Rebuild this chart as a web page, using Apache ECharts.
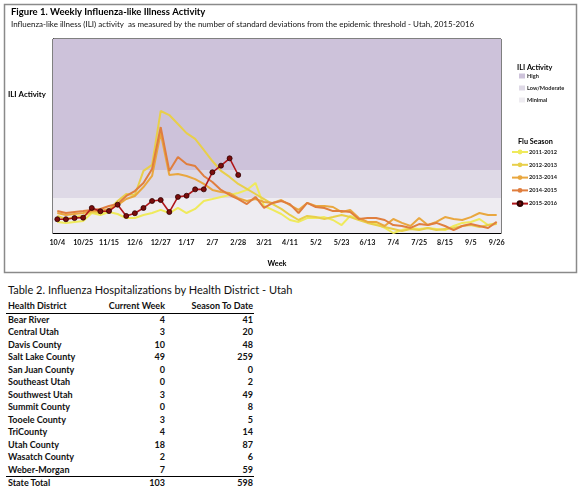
<!DOCTYPE html>
<html lang="en">
<head>
    <meta charset="UTF-8">
    <title>Weekly Influenza-like Illness Activity - Utah</title>
    <style>
        body {
            margin: 0;
            background: #fff;
            font-family: Lato, "Open Sans", sans-serif;
            color: #111;
        }

        .page {
            position: relative;
            width: 587px;
            height: 497px;
        }

        #iliChart {
            position: absolute;
            left: 0;
            top: 0;
            width: 587px;
            height: 280px;
        }

        .table-title {
            position: absolute;
            left: 8px;
            top: 283px;
            font-size: 11px;
            white-space: nowrap;
        }

        .hosp-table {
            position: absolute;
            left: 6px;
            top: 300px;
            border-collapse: collapse;
            font-size: 9px;
            font-weight: bold;
        }

        .hosp-table td, .hosp-table th {
            height: 12.5px;
            padding: 0 1px 0 2px;
            line-height: 12.5px;
            white-space: nowrap;
        }

        .hosp-table th {
            border-bottom: 1px solid #000;
            text-align: left;
        }

        .hosp-table .num {
            text-align: right;
        }

        .hosp-table tr.total td {
            border-top: 1.5px solid #000;
        }
    </style>
</head>
<body>
    <div class="page">
        <div id="iliChart"></div>
        <div class="table-title">Table 2. Influenza Hospitalizations by Health District - Utah</div>
        <table class="hosp-table" id="hospTable">
            <colgroup>
                <col style="width: 100px">
                <col style="width: 60px">
                <col style="width: 88px">
            </colgroup>
        </table>
    </div>

    <script src="https://cdn.jsdelivr.net/npm/echarts@6/dist/echarts.min.js"></script>
    <script>
        // week start dates, 10/4 through 9/26
        const weeks = ['10/4', '10/11', '10/18', '10/25', '11/1', '11/8', '11/15', '11/22', '11/29',
            '12/6', '12/13', '12/20', '12/27', '1/3', '1/10', '1/17', '1/24', '1/31',
            '2/7', '2/14', '2/21', '2/28', '3/7', '3/14', '3/21', '3/28', '4/4', '4/11', '4/18', '4/25',
            '5/2', '5/9', '5/16', '5/23', '5/30', '6/6', '6/13', '6/20', '6/27',
            '7/4', '7/11', '7/18', '7/25', '8/1', '8/8', '8/15', '8/22', '8/29',
            '9/5', '9/12', '9/19', '9/26'];

        // ILI activity per season (relative units)
        const season2011 = [0.57, 0.52, 0.57, 0.62, 1.03, 0.93, 1.08, 0.98, 0.77, 0.77, 0.93, 1.03, 1.19,
            1.03, 1.29, 1.03, 1.24, 1.65, 1.75, 1.86, 1.96, 2.06, 2.22, 2.58, 1.39, 1.19, 0.98, 0.67,
            0.57, 0.77, 0.77, 0.82, 0.67, 0.41, 0.88, 0.72, 0.57, 0.46, 0.26, 0, 0.15, 0.26, 0.21,
            0.26, 0.21, 0.15, 0.36, 0.52, 0.57, 0.72, 0.41, 0.52];
        const season2012 = [0.88, 0.72, 0.82, 0.88, 1.08, 1.03, 1.19, 1.65, 2.01, 1.96, 3.2, 3.51, 6.29,
            6.08, 5.62, 5.15, 4.85, 4.28, 3.71, 3.2, 2.89, 2.53, 2.27, 2.01, 1.75, 1.49, 1.24, 0.93,
            0.67, 0.88, 0.82, 0.72, 0.82, 0.93, 0.82, 0.67, 0.52, 0.41, 0.31, 0.21, 0.1, 0.21, 0.15,
            0.26, 0.15, 0.21, 0.26, 0.36, 0.41, 0.31, 0.41, 0.46];
        const season2013 = [1.03, 0.93, 0.98, 1.03, 1.13, 1.13, 1.24, 1.44, 1.75, 1.91, 2.37, 2.94, 5.15,
            2.99, 3.04, 2.94, 2.78, 2.53, 2.22, 2.11, 2.06, 1.8, 1.65, 1.75, 1.6, 1.55, 1.7, 1.44,
            1.19, 1.55, 1.39, 1.39, 1.34, 1.08, 1.19, 0.77, 0.57, 0.57, 0.36, 0.72, 0.52, 0.36, 0.77,
            0.41, 0.57, 0.82, 0.72, 0.67, 0.82, 1.03, 0.93, 0.93];
        const season2014 = [1.13, 1.03, 1.08, 1.13, 1.19, 1.24, 1.39, 1.49, 1.91, 2.16, 2.58, 3.3, 5.46,
            3.2, 3.92, 3.56, 3.45, 2.94, 2.63, 2.22, 1.96, 1.75, 1.49, 1.86, 1.29, 1.55, 1.65, 1.49,
            1.03, 1.55, 1.34, 1.29, 1.13, 1.13, 1.08, 0.72, 0.77, 0.77, 0.67, 0.41, 0.36, 0.26, 0.46,
            0.41, 0.52, 0.36, 0.15, 0.36, 0.46, 0.36, 0.26, 0.57];
        const season2015 = [0.71, 0.71, 0.77, 0.79, 1.29, 1.12, 1.13, 1.46, 0.88, 1.02, 1.29, 1.65, 1.7,
            1.08, 1.86, 1.92, 2.25, 2.25, 3.13, 3.47, 3.85, 2.99];

        // ILI activity bands
        const bandNames = ['High', 'Low/Moderate', 'Minimal'];
        const bandFrom = [3.25, 1.8, 0];
        const bandTo = [10, 3.25, 1.8];

        // hospitalizations table
        const districts = ['Bear River', 'Central Utah', 'Davis County', 'Salt Lake County', 'San Juan County',
            'Southeast Utah', 'Southwest Utah', 'Summit County', 'Tooele County', 'TriCounty',
            'Utah County', 'Wasatch County', 'Weber-Morgan'];
        const currentWeek = [4, 3, 10, 49, 0, 0, 3, 0, 3, 4, 18, 2, 7];
        const seasonToDate = [41, 20, 48, 259, 0, 2, 49, 8, 5, 14, 87, 6, 59];
        const stateTotal = [103, 598];

        const fontFamily = 'Lato, "Open Sans", sans-serif';
        const bandColors = ['#CDC2DA', '#DED9E6', '#EEECF1'];
        const seasons = [
            { name: '2011-2012', data: season2011, color: '#EFEA5C' },
            { name: '2012-2013', data: season2012, color: '#E8CF4A' },
            { name: '2013-2014', data: season2013, color: '#E9A73F' },
            { name: '2014-2015', data: season2014, color: '#E07E3E' }
        ];

        const bandSeries = bandNames.map(function (name, i) {
            return {
                name: name,
                type: 'line',
                data: [],
                color: bandColors[i],
                silent: true,
                markArea: {
                    silent: true,
                    itemStyle: { color: bandColors[i] },
                    data: [[{ yAxis: bandFrom[i] }, { yAxis: bandTo[i] }]]
                }
            };
        });

        const seasonSeries = seasons.map(function (s) {
            return {
                name: s.name,
                type: 'line',
                data: s.data,
                color: s.color,
                symbol: 'none',
                lineStyle: { width: 2, color: s.color },
                z: 3
            };
        });

        seasonSeries.push({
            name: '2015-2016',
            type: 'line',
            data: season2015,
            color: '#9E1414',
            symbol: 'circle',
            symbolSize: 5,
            lineStyle: { width: 1.6, color: '#B0171A' },
            itemStyle: { color: '#7A0C0C', borderColor: '#2E0000', borderWidth: 0.8 },
            z: 5
        });

        const chart = echarts.init(document.getElementById('iliChart'));
        chart.setOption({
            animation: false,
            textStyle: { fontFamily: fontFamily },
            title: {
                text: 'Figure 1. Weekly Influenza-like Illness Activity',
                subtext: 'Influenza-like illness (ILI) activity  as measured by the number of standard deviations from the epidemic threshold - Utah, 2015-2016',
                left: 11,
                top: 7,
                itemGap: 3,
                padding: 0,
                textStyle: { fontSize: 9.5, fontWeight: 'bold', color: '#000', fontFamily: fontFamily },
                subtextStyle: { fontSize: 8, color: '#111', fontFamily: fontFamily }
            },
            graphic: [
                {
                    type: 'rect',
                    shape: { x: 4.5, y: 4.5, width: 572, height: 268 },
                    style: { fill: 'none', stroke: '#8A8A8A', lineWidth: 1.5 },
                    silent: true
                },
                {
                    type: 'text',
                    left: 8,
                    top: 90,
                    style: { text: 'ILI Activity', font: 'bold 7.8px ' + fontFamily, fill: '#000' }
                },
                {
                    type: 'text',
                    left: 517,
                    top: 64,
                    style: { text: 'ILI Activity', font: 'bold 7.3px ' + fontFamily, fill: '#000' }
                },
                {
                    type: 'text',
                    left: 518,
                    top: 138,
                    style: { text: 'Flu Season', font: 'bold 7.3px ' + fontFamily, fill: '#000' }
                }
            ],
            legend: [
                {
                    data: bandNames,
                    orient: 'vertical',
                    left: 519,
                    top: 73,
                    padding: 0,
                    itemGap: 6,
                    itemWidth: 6,
                    itemHeight: 5,
                    icon: 'rect',
                    selectedMode: false,
                    textStyle: { fontSize: 5.6, fontWeight: 'bold', color: '#222', padding: [0, 0, 0, -3] }
                },
                {
                    data: seasons.map(function (s) { return s.name; }).concat(['2015-2016']),
                    orient: 'vertical',
                    left: 511,
                    top: 149,
                    padding: 0,
                    itemGap: 6.8,
                    itemWidth: 16,
                    itemHeight: 6,
                    selectedMode: false,
                    textStyle: { fontSize: 5.6, fontWeight: 'bold', color: '#222', padding: [0, 0, 0, -4] }
                }
            ],
            grid: {
                left: 53,
                top: 39,
                width: 448,
                height: 194,
                show: true,
                borderColor: '#000',
                borderWidth: 1,
                backgroundColor: 'transparent'
            },
            xAxis: {
                type: 'category',
                data: weeks,
                boundaryGap: true,
                name: 'Week',
                nameLocation: 'middle',
                nameGap: 27,
                nameTextStyle: { fontSize: 7.3, fontWeight: 'bold', color: '#000' },
                axisLine: { lineStyle: { color: '#000', width: 1 } },
                axisTick: { interval: 0, length: 3, lineStyle: { color: '#555' } },
                axisLabel: { interval: 2, fontSize: 7.2, fontWeight: 'bold', color: '#111', margin: 6 },
                splitLine: { show: false }
            },
            yAxis: {
                type: 'value',
                min: 0,
                max: 10,
                axisLine: { show: true, lineStyle: { color: '#000' } },
                axisTick: { show: false },
                axisLabel: { show: false },
                splitLine: { show: false }
            },
            series: bandSeries.concat(seasonSeries)
        });

        // table rows
        const table = document.getElementById('hospTable');
        let html = '<tr><th>Health District</th><th class="num">Current Week</th><th class="num">Season To Date</th></tr>';
        districts.forEach(function (d, i) {
            html += '<tr><td>' + d + '</td><td class="num">' + currentWeek[i] + '</td><td class="num">' + seasonToDate[i] + '</td></tr>';
        });
        html += '<tr class="total"><td>State Total</td><td class="num">' + stateTotal[0] + '</td><td class="num">' + stateTotal[1] + '</td></tr>';
        table.insertAdjacentHTML('beforeend', html);
    </script>
</body>
</html>
